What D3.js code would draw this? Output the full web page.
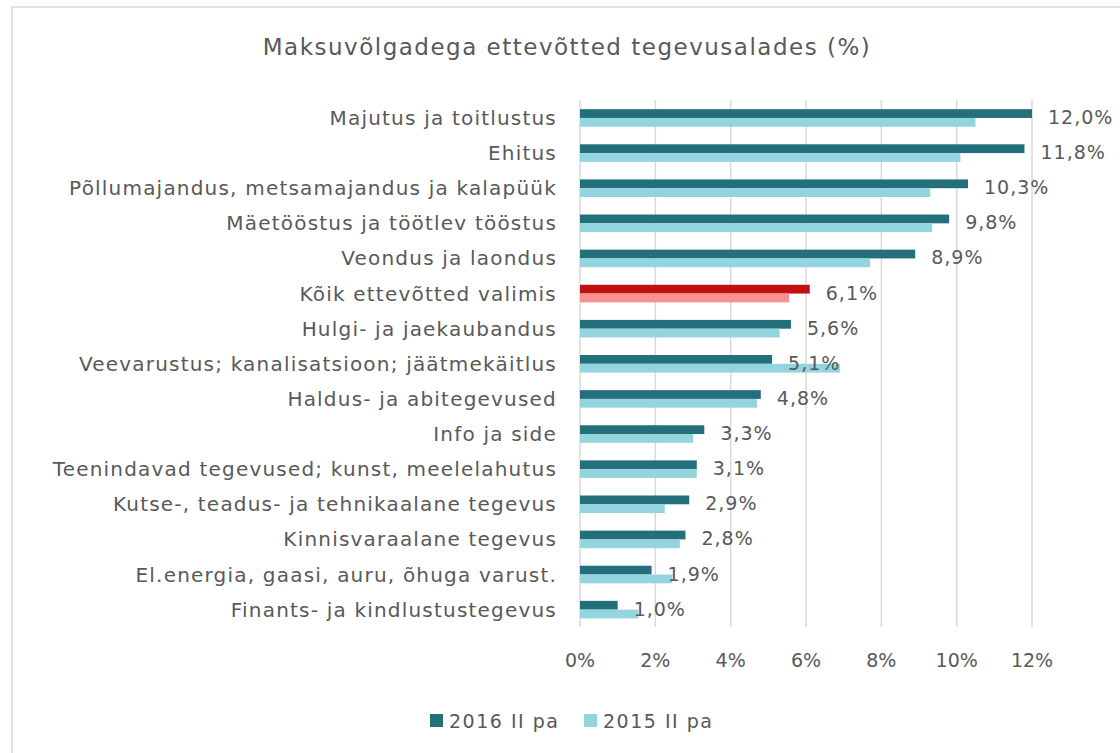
<!DOCTYPE html>
<html>
<head>
<meta charset="utf-8">
<script src="https://cdn.jsdelivr.net/npm/d3@7"></script>
<style>
  body { margin: 0; background: #fff; }
  text { font-family: "DejaVu Sans", sans-serif; fill: #595959; }
</style>
</head>
<body>
<script>
// data
var categories = [
  "Majutus ja toitlustus",
  "Ehitus",
  "Põllumajandus, metsamajandus ja kalapüük",
  "Mäetööstus ja töötlev tööstus",
  "Veondus ja laondus",
  "Kõik ettevõtted valimis",
  "Hulgi- ja jaekaubandus",
  "Veevarustus; kanalisatsioon; jäätmekäitlus",
  "Haldus- ja abitegevused",
  "Info ja side",
  "Teenindavad tegevused; kunst, meelelahutus",
  "Kutse-, teadus- ja tehnikaalane tegevus",
  "Kinnisvaraalane tegevus",
  "El.energia, gaasi, auru, õhuga varust.",
  "Finants- ja kindlustustegevus"
];
var values2016 = [12.0, 11.8, 10.3, 9.8, 8.9, 6.1, 5.6, 5.1, 4.8, 3.3, 3.1, 2.9, 2.8, 1.9, 1.0];
var values2015 = [10.5, 10.1, 9.3, 9.35, 7.7, 5.55, 5.3, 6.9, 4.7, 3.0, 3.1, 2.25, 2.65, 2.45, 1.55];
var seriesNames = ["2016 II pa", "2015 II pa"];
var xTicks = [0, 2, 4, 6, 8, 10, 12];
var highlight = "Kõik ettevõtted valimis";

var width = 1120, height = 753;
var dark = "#236f7c", light = "#93d4df";
var red = "#c30e14", pink = "#f79191";

var svg = d3.select("body").append("svg")
  .attr("width", width)
  .attr("height", height);

// outer frame
svg.append("rect")
  .attr("x", 12).attr("y", 7)
  .attr("width", width + 20).attr("height", height + 20)
  .attr("fill", "none")
  .attr("stroke", "#d9d9d9")
  .attr("stroke-width", 1.5);

svg.append("text")
  .attr("x", 567).attr("y", 47)
  .attr("text-anchor", "middle")
  .attr("dominant-baseline", "central")
  .style("font-size", "23px")
  .style("letter-spacing", "1.5px")
  .text("Maksuvõlgadega ettevõtted tegevusalades (%)");

var x = d3.scaleLinear().domain([0, 12]).range([580, 1032]);
var y = d3.scaleBand().domain(categories)
  .range([100.4, 627.2])
  .paddingInner(0.5)
  .paddingOuter(0.25);
var ySub = d3.scaleBand().domain(seriesNames).range([0, y.bandwidth()]);

// gridlines
svg.selectAll(".grid")
  .data(xTicks)
  .enter().append("line")
  .attr("class", "grid")
  .attr("x1", function(d) { return x(d); })
  .attr("x2", function(d) { return x(d); })
  .attr("y1", 100).attr("y2", 627)
  .attr("stroke", "#d9d9d9")
  .attr("stroke-width", 1.5);

// x axis labels
svg.selectAll(".xlab")
  .data(xTicks)
  .enter().append("text")
  .attr("class", "xlab")
  .attr("x", function(d) { return x(d); })
  .attr("y", 660)
  .attr("text-anchor", "middle")
  .attr("dominant-baseline", "central")
  .style("font-size", "19px")
  .text(function(d) { return d + "%"; });

// category labels
svg.selectAll(".ylab")
  .data(categories)
  .enter().append("text")
  .attr("class", "ylab")
  .attr("x", 557)
  .attr("y", function(d) { return y(d) + y.bandwidth() / 2; })
  .attr("text-anchor", "end")
  .attr("dominant-baseline", "central")
  .style("font-size", "20px")
  .style("letter-spacing", "1.2px")
  .text(function(d) { return d; });

var rows = categories.map(function(c, i) {
  return { cat: c, v16: values2016[i], v15: values2015[i] };
});

var g = svg.selectAll(".row")
  .data(rows)
  .enter().append("g")
  .attr("class", "row")
  .attr("transform", function(d) { return "translate(0," + y(d.cat) + ")"; });

g.append("rect")
  .attr("x", x(0))
  .attr("y", ySub(seriesNames[0]))
  .attr("width", function(d) { return x(d.v16) - x(0); })
  .attr("height", ySub.bandwidth())
  .attr("fill", function(d) { return d.cat === highlight ? red : dark; });

g.append("rect")
  .attr("x", x(0))
  .attr("y", ySub(seriesNames[1]))
  .attr("width", function(d) { return x(d.v15) - x(0); })
  .attr("height", ySub.bandwidth())
  .attr("fill", function(d) { return d.cat === highlight ? pink : light; });

g.append("text")
  .attr("x", function(d) { return x(d.v16) + 16; })
  .attr("y", y.bandwidth() / 2 - 1)
  .attr("dominant-baseline", "central")
  .style("font-size", "19px")
  .style("letter-spacing", "1px")
  .text(function(d) { return d3.format(".1f")(d.v16).replace(".", ",") + "%"; });

// legend
var legendX = [430, 584];
var legend = svg.selectAll(".legend")
  .data(seriesNames)
  .enter().append("g")
  .attr("class", "legend")
  .attr("transform", function(d, i) { return "translate(" + legendX[i] + ",714)"; });

legend.append("rect")
  .attr("width", 13).attr("height", 13)
  .attr("fill", function(d, i) { return i === 0 ? dark : light; });

legend.append("text")
  .attr("x", 19).attr("y", 7)
  .attr("dominant-baseline", "central")
  .style("font-size", "19px")
  .style("letter-spacing", "1.5px")
  .text(function(d) { return d; });
</script>
</body>
</html>
